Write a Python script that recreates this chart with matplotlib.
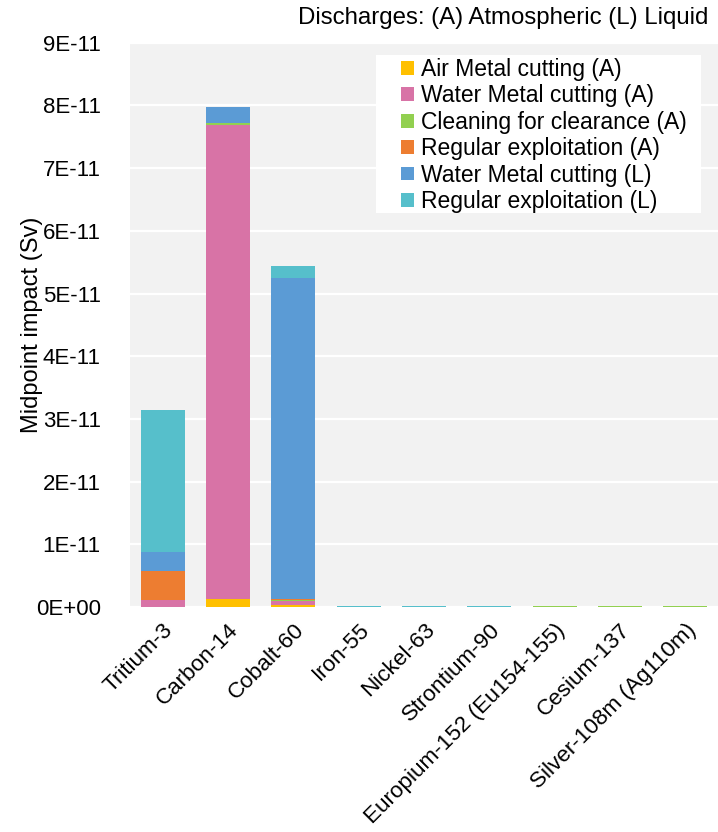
import matplotlib

matplotlib.use("Agg")
import matplotlib.pyplot as plt
import numpy as np
from matplotlib.patches import Rectangle
from matplotlib.ticker import FuncFormatter, MultipleLocator

plt.rcParams["font.family"] = ["Liberation Sans", "DejaVu Sans"]

# radionuclides and the midpoint impact (Sv) of each discharge pathway
nuclides = [
    "Tritium-3",
    "Carbon-14",
    "Cobalt-60",
    "Iron-55",
    "Nickel-63",
    "Strontium-90",
    "Europium-152 (Eu154-155)",
    "Cesium-137",
    "Silver-108m (Ag110m)",
]
air_metal_a = [0.0, 1.22e-12, 3.8e-13, 0.0, 0.0, 0.0, 4e-14, 4e-14, 4e-14]
water_metal_a = [1.18e-12, 7.56e-11, 5.3e-13, 0.0, 0.0, 0.0, 0.0, 0.0, 0.0]
cleaning_a = [0.0, 3e-13, 1.5e-13, 0.0, 0.0, 0.0, 6e-14, 6e-14, 6e-14]
regular_a = [4.5e-12, 0.0, 1.5e-13, 0.0, 0.0, 0.0, 0.0, 0.0, 0.0]
water_metal_l = [3.07e-12, 2.66e-12, 5.13e-11, 4e-14, 4e-14, 2e-14, 0.0, 0.0, 0.0]
regular_l = [2.26e-11, 0.0, 1.9e-12, 4e-14, 4e-14, 1.2e-13, 0.0, 0.0, 0.0]

series = [
    ("Air Metal cutting (A)", air_metal_a, "#FFC000"),
    ("Water Metal cutting (A)", water_metal_a, "#D873A6"),
    ("Cleaning for clearance (A)", cleaning_a, "#92D050"),
    ("Regular exploitation (A)", regular_a, "#ED7D31"),
    ("Water Metal cutting (L)", water_metal_l, "#5B9BD5"),
    ("Regular exploitation (L)", regular_l, "#56BFCB"),
]

fig = plt.figure(figsize=(7.18, 8.32), dpi=100)
ax = fig.add_axes([130 / 718, 1 - 607 / 832, 588 / 718, 564.3 / 832])
ax.set_facecolor("#F2F2F2")

x = np.arange(len(nuclides))
bottom = np.zeros(len(nuclides))
for label, values, color in series:
    values = np.array(values)
    ax.bar(x, values, width=0.67, bottom=bottom, color=color, label=label, zorder=3)
    bottom += values

ax.set_xlim(-0.5, len(nuclides) - 0.5)
ax.set_ylim(0, 9e-11)
ax.yaxis.set_major_locator(MultipleLocator(1e-11))
ax.yaxis.set_major_formatter(FuncFormatter(lambda v, pos: f"{v:.0E}"))
ax.yaxis.offsetText.set_visible(False)
ax.grid(axis="y", color="white", linewidth=1.6, zorder=1)
ax.set_axisbelow(True)

for spine in ax.spines.values():
    spine.set_visible(False)
ax.tick_params(axis="both", length=0)
ax.tick_params(axis="y", labelsize=16, pad=21)

ax.set_xticks(x)
ax.set_xticklabels(nuclides, rotation=45, ha="right", va="top",
                   rotation_mode="anchor", fontsize=16.2)
ax.tick_params(axis="x", pad=9)

ax.set_ylabel("Midpoint impact (Sv)", fontsize=17)
ax.yaxis.set_label_coords((43 - 130) / 588, 0.5)

# white legend panel, wider on the left than the entries need
ax.add_patch(Rectangle((0.418, 0.698), 0.553, 0.28, transform=ax.transAxes,
                       facecolor="white", edgecolor="none", zorder=4))
legend = ax.legend(
    loc="upper left",
    bbox_to_anchor=(0.461, 0.973),
    borderaxespad=0,
    fontsize=16.5,
    frameon=False,
    handlelength=0.55,
    handleheight=0.55,
    handletextpad=0.3,
    labelspacing=0.15,
    borderpad=0.0,
)
legend.set_zorder(5)

fig.text(708 / 718, 1 - 18 / 832, "Discharges: (A) Atmospheric (L) Liquid",
         ha="right", va="center", fontsize=17.3)

fig.savefig("out.png", dpi=100, facecolor="white")
